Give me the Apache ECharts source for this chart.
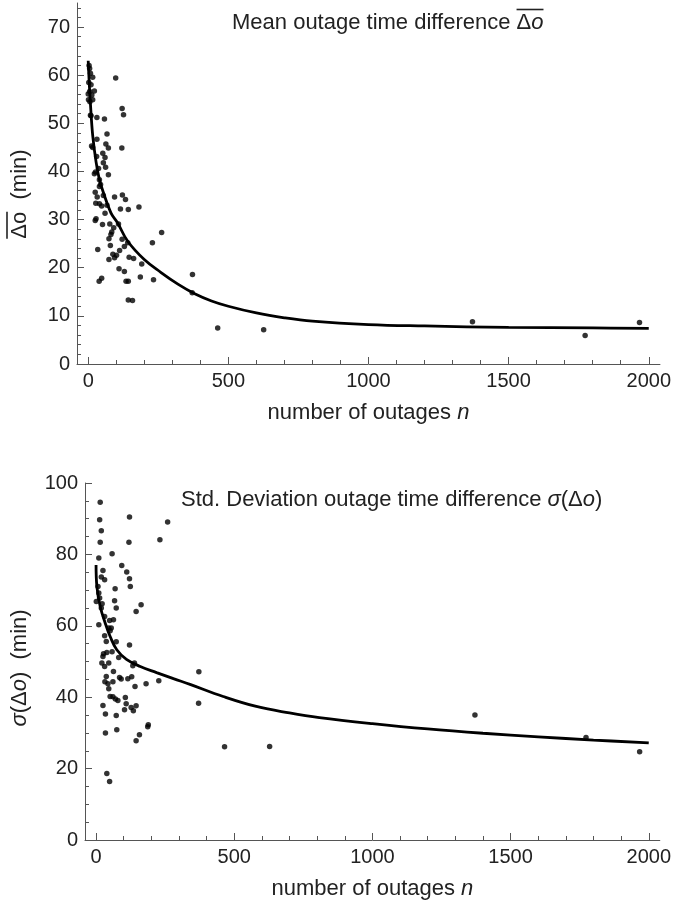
<!DOCTYPE html>
<html>
<head>
<meta charset="utf-8">
<script src="https://cdn.jsdelivr.net/npm/echarts@6/dist/echarts.min.js"></script>
<style>
  html, body { margin: 0; background: #fff; }
  #chart { width: 674px; height: 914px; }
</style>
</head>
<body>
<div id="chart"></div>
<script>
// mean outage time difference vs number of outages
const meanPoints = [
  [3, 62.0], [5, 61.4], [8, 60.4], [16, 59.6], [98, 59.4], [10, 58], [2, 58.5], [22, 56.7], [5, 56.6],
  [0, 56.1], [13, 55.9], [1, 54.9], [16, 54.9], [6, 54.5], [121, 53.1], [126, 51.8], [10, 51.6],
  [8, 51.7], [31, 51.2], [58, 50.9], [67, 47.8], [31, 46.7], [16, 45], [12, 45.3], [63, 45.7],
  [72, 44.9], [120, 44.9], [52, 43.8], [30, 43.1], [60, 42.9], [54, 41.8], [62, 40.9], [37, 40.6],
  [26, 39.9], [22, 39.5], [72, 39.3], [40, 38.3], [44, 37.3], [40, 36.9], [25, 35.7], [32, 34.7],
  [54, 35], [94, 34.7], [122, 35.1], [133, 34.2], [40, 33.3], [27, 33.4], [48, 32.8], [67, 33],
  [115, 32.2], [143, 32.1], [181, 32.6], [60, 31.3], [28, 30.2], [25, 29.8], [51, 29], [77, 29.1],
  [91, 28.3], [108, 29.1], [84, 27.4], [81, 26.9], [262, 27.3], [121, 25.9], [74, 26], [141, 25.2],
  [229, 25.2], [79, 24.6], [129, 24.4], [34, 23.8], [112, 23.6], [88, 22.8], [101, 22.6], [94, 22.1],
  [74, 21.7], [146, 22.2], [162, 21.9], [191, 20.8], [110, 19.8], [129, 19.2], [186, 18.1],
  [233, 17.5], [372, 18.6], [48, 17.8], [39, 17.2], [135, 17.2], [143, 17.2], [143, 13.3],
  [158, 13.2], [371, 14.8], [462, 7.5], [626, 7.1], [1371, 8.8], [1773, 5.9], [1967, 8.6]
]
const meanFit = [
  [0, 63], [4, 58], [8, 54], [16, 47.5], [28, 42], [40, 38.3], [52, 36], [81, 31.4], [105, 29.3],
  [141, 25.5], [200, 21.7], [260, 19], [320, 16.6], [380, 14.6], [440, 13.1], [500, 12],
  [600, 10.6], [700, 9.6], [800, 8.9], [1000, 8.2], [1200, 7.9], [1500, 7.6], [1800, 7.5], [2000, 7.4]
]

// std. deviation of outage time difference
const sdPoints = [
  [15, 94.6], [121, 90.5], [13, 89.7], [259, 89.1], [19, 86.6], [231, 84.1], [15, 83.4], [119, 83.4],
  [58, 80.2], [10, 79], [93, 76.9], [25, 75.5], [111, 75.1], [19, 73.7], [31, 72.9], [121, 73.2],
  [124, 71], [69, 70.4], [7, 71], [10, 69.2], [13, 67.8], [1, 66.8], [22, 66.2], [67, 67],
  [163, 65.9], [73, 65], [145, 64], [19, 65], [31, 62.6], [49, 61.5], [63, 61.7], [10, 60.3],
  [46, 59.4], [55, 59.4], [31, 57.2], [51, 58.6], [37, 55.6], [73, 55.5], [121, 54.6], [27, 52.2],
  [25, 51.4], [39, 52.5], [58, 52.7], [82, 51.1], [21, 49.6], [31, 48.6], [46, 49.6], [139, 49.6],
  [133, 48.8], [63, 47.2], [372, 47.1], [37, 45.8], [85, 45.5], [91, 45.1], [115, 45.2], [129, 45.7],
  [32, 44.3], [43, 43.8], [61, 44.3], [181, 43.8], [227, 44.6], [141, 43], [46, 42.4], [51, 40.2],
  [61, 40.1], [70, 39.5], [79, 39.1], [106, 39.9], [25, 37.7], [109, 38.2], [127, 37.1], [145, 37.6],
  [135, 36.2], [103, 36.5], [371, 38.3], [34, 35.3], [73, 34.9], [189, 32.3], [187, 31.7], [75, 30.9],
  [34, 30], [157, 29.5], [145, 27.8], [465, 26.1], [628, 26.2], [39, 18.6], [49, 16.4],
  [1371, 35], [1773, 28.7], [1967, 24.7]
]
const sdFit = [
  [0, 77], [3, 71], [15, 65.4], [33, 60.8], [51, 57], [75, 53.3], [110, 50.6], [160, 48.6],
  [219, 46.9], [280, 45.2], [340, 43.6], [460, 40.2], [580, 37.4], [700, 35.6], [808, 34.3],
  [1000, 32.6], [1200, 31.1], [1400, 29.9], [1600, 28.9], [1800, 28], [2000, 27.2]
]

const xTicks = [0, 500, 1000, 1500, 2000]
const xMinorTicks = [100, 200, 300, 400, 600, 700, 800, 900, 1100, 1200, 1300, 1400, 1600, 1700, 1800, 1900]
const meanTicks = [0, 10, 20, 30, 40, 50, 60, 70]
const meanMinorTicks = [2, 4, 6, 8, 12, 14, 16, 18, 22, 24, 26, 28, 32, 34, 36, 38, 42, 44, 46, 48,
  52, 54, 56, 58, 62, 64, 66, 68, 72, 74]
const sdTicks = [0, 20, 40, 60, 80, 100]
const sdMinorTicks = [5, 10, 15, 25, 30, 35, 45, 50, 55, 65, 70, 75, 85, 90, 95]

const FONT = '"Liberation Sans", Arial, sans-serif'
const AXIS_COLOR = '#555'
const TEXT_COLOR = '#222'

// measure text so the overlines sit over "Δo"
const ctx = document.createElement('canvas').getContext('2d')
function textWidth(str, italic) {
  ctx.font = (italic ? 'italic ' : '') + '22px ' + FONT
  return ctx.measureText(str).width
}

const titleLeft = 232
const titleTop = 12
const barStart = titleLeft + textWidth('Mean outage time difference ')
const barEnd = barStart + textWidth('\u0394') + textWidth('o', true)

// top y-axis name, rotated, centred at (20, 194)
const yNameW = textWidth('\u0394o  (min)')
const yNameBottom = 194 + yNameW / 2
const yBarTop = yNameBottom - textWidth('\u0394o')

const chart = echarts.init(document.getElementById('chart'))

function mainAxis(grid, extra) {
  return Object.assign({
    type: 'value',
    gridIndex: grid,
    axisLine: { show: true, onZero: false, lineStyle: { color: AXIS_COLOR, width: 1 } },
    splitLine: { show: false },
    nameTextStyle: {
      color: TEXT_COLOR, fontSize: 22, fontFamily: FONT,
      rich: {
        i: { fontStyle: 'italic', fontSize: 22, fontFamily: FONT, color: TEXT_COLOR }
      }
    }
  }, extra)
}

function minorAxis(grid, extra) {
  return Object.assign({
    type: 'value',
    gridIndex: grid,
    axisLine: { show: false, onZero: false },
    axisLabel: { show: false },
    splitLine: { show: false }
  }, extra)
}

function labels(values) {
  return { color: TEXT_COLOR, fontSize: 20, fontFamily: FONT, margin: 7, customValues: values,
    formatter: (v) => String(v) }
}
function ticks(values, len) {
  return { show: true, inside: true, length: len, lineStyle: { color: AXIS_COLOR }, customValues: values }
}

const option = {
  backgroundColor: '#fff',
  animation: false,
  title: [
    {
      text: 'Mean outage time difference \u0394{i|o}',
      left: titleLeft, top: titleTop, padding: 0,
      textStyle: {
        fontSize: 22, fontWeight: 'normal', fontFamily: FONT, color: TEXT_COLOR,
        rich: {
          i: { fontSize: 22, fontFamily: FONT, color: TEXT_COLOR, fontStyle: 'italic' }
        }
      }
    },
    {
      text: 'Std. Deviation outage time difference {i|\u03c3}(\u0394{i|o})',
      left: 181, top: 489, padding: 0,
      textStyle: {
        fontSize: 22, fontWeight: 'normal', fontFamily: FONT, color: TEXT_COLOR,
        rich: {
          i: { fontSize: 22, fontFamily: FONT, color: TEXT_COLOR, fontStyle: 'italic' }
        }
      }
    }
  ],
  graphic: [
    {
      type: 'line', shape: { x1: barStart, y1: 9.5, x2: barEnd, y2: 9.5 },
      style: { stroke: TEXT_COLOR, lineWidth: 1.6 }
    },
    {
      type: 'text', x: 20, y: 194, rotation: Math.PI / 2,
      style: {
        text: '\u0394o  (min)', fill: TEXT_COLOR, font: '22px ' + FONT,
        align: 'center', verticalAlign: 'middle'
      }
    },
    {
      type: 'line', shape: { x1: 7, y1: yBarTop, x2: 7, y2: yNameBottom },
      style: { stroke: TEXT_COLOR, lineWidth: 1.6 }
    },
    {
      type: 'text', x: 20, y: 668, rotation: Math.PI / 2,
      style: {
        text: '{i|\u03c3}(\u0394{i|o})  (min)', fill: TEXT_COLOR, font: '22px ' + FONT,
        align: 'center', verticalAlign: 'middle',
        rich: { i: { fontStyle: 'italic', fontSize: 22, fontFamily: FONT, fill: TEXT_COLOR } }
      }
    }
  ],
  grid: [
    { left: 77, right: 12, top: 3, height: 361 },
    { left: 85, right: 12, top: 483, height: 357 }
  ],
  xAxis: [
    mainAxis(0, {
      min: -40, max: 2040, position: 'bottom', offset: 0,
      axisLabel: labels(xTicks), axisTick: ticks(xTicks, 7),
      name: 'number of outages {i|n}', nameLocation: 'middle', nameGap: 38
    }),
    minorAxis(0, { min: -40, max: 2040, position: 'bottom', offset: 0, axisTick: ticks(xMinorTicks, 4) }),
    mainAxis(1, {
      min: -40, max: 2040, position: 'bottom', offset: 0,
      axisLabel: labels(xTicks), axisTick: ticks(xTicks, 7),
      name: 'number of outages {i|n}', nameLocation: 'middle', nameGap: 38
    }),
    minorAxis(1, { min: -40, max: 2040, position: 'bottom', offset: 0, axisTick: ticks(xMinorTicks, 4) })
  ],
  yAxis: [
    mainAxis(0, { min: 0, max: 75, position: 'left', offset: 0,
      axisLabel: labels(meanTicks), axisTick: ticks(meanTicks, 7) }),
    minorAxis(0, { min: 0, max: 75, position: 'left', offset: 0, axisTick: ticks(meanMinorTicks, 4) }),
    mainAxis(1, { min: 0, max: 100, position: 'left', offset: 0,
      axisLabel: labels(sdTicks), axisTick: ticks(sdTicks, 7) }),
    minorAxis(1, { min: 0, max: 100, position: 'left', offset: 0, axisTick: ticks(sdMinorTicks, 4) })
  ],
  series: [
    {
      type: 'line', xAxisIndex: 0, yAxisIndex: 0, data: meanFit, smooth: 0.4,
      showSymbol: false, lineStyle: { color: '#000', width: 2.8 }, z: 2
    },
    {
      type: 'scatter', xAxisIndex: 0, yAxisIndex: 0, data: meanPoints,
      symbol: 'circle', symbolSize: 5.5, itemStyle: { color: '#000' }, z: 3
    },
    {
      type: 'line', xAxisIndex: 2, yAxisIndex: 2, data: sdFit, smooth: 0.4,
      showSymbol: false, lineStyle: { color: '#000', width: 2.8 }, z: 2
    },
    {
      type: 'scatter', xAxisIndex: 2, yAxisIndex: 2, data: sdPoints,
      symbol: 'circle', symbolSize: 5.5, itemStyle: { color: '#000' }, z: 3
    }
  ]
}

chart.setOption(option)
</script>
</body>
</html>
